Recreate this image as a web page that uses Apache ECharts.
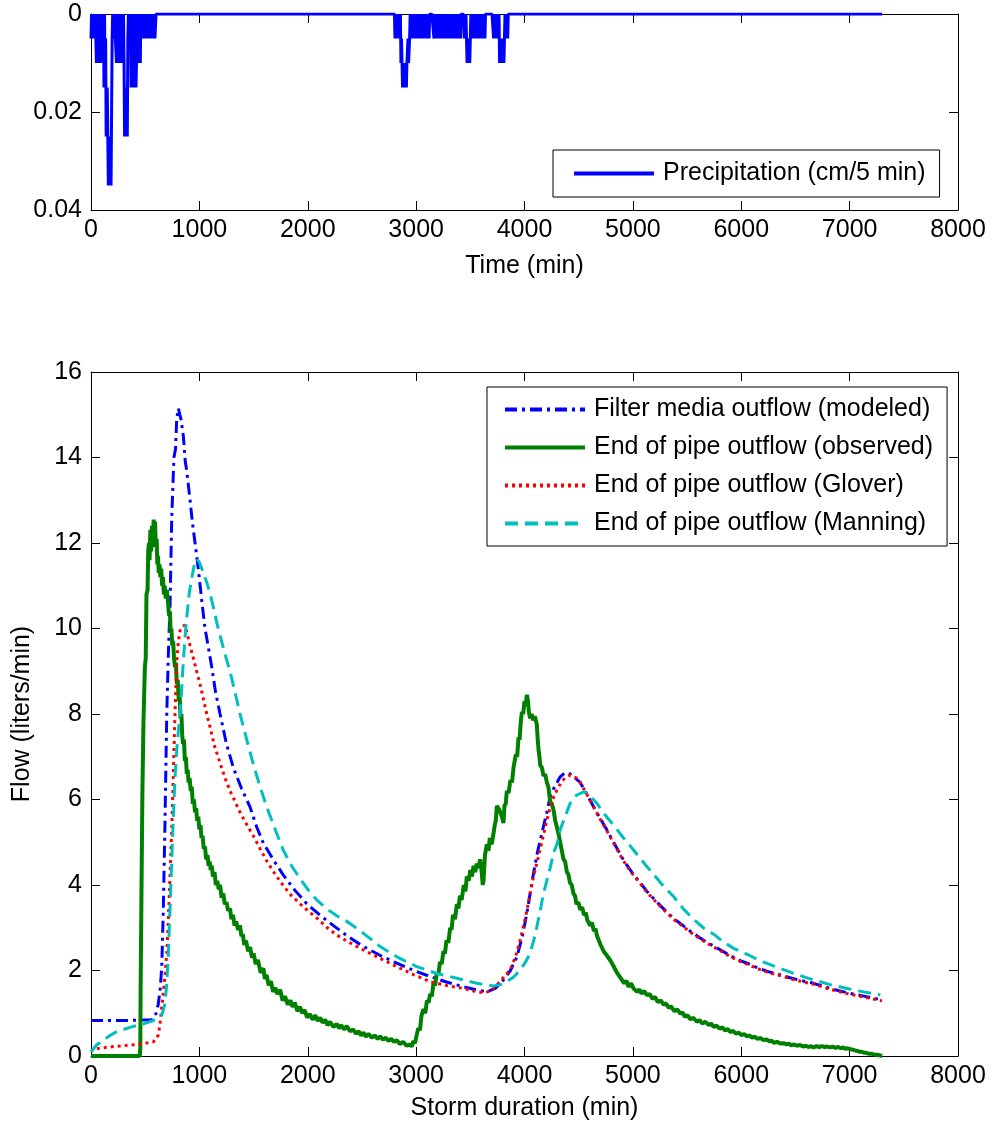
<!DOCTYPE html>
<html>
<head>
<meta charset="utf-8">
<script src="https://cdn.jsdelivr.net/npm/echarts@6/dist/echarts.min.js"></script>
<style>
html,body{margin:0;padding:0;background:#fff;}
#chart{width:995px;height:1130px;}
</style>
</head>
<body>
<div id="chart"></div>
<script>
// ---------- DATA ----------
const xTicks = [0, 1000, 2000, 3000, 4000, 5000, 6000, 7000, 8000];
const precipTicks = [0, 0.02, 0.04];
const flowTicks = [0, 2, 4, 6, 8, 10, 12, 14, 16];

// Precipitation (cm / 5 min), one reading every 5 minutes
const rain1Start = 0;
const rain1 = [
  0.005,0,0.005,0,0.005,0.005,0,0.005,0,0.005,
  0.01,0,0.01,0.005,0,0.01,0.005,0,0.01,0,
  0.005,0,0.005,0,
  0.015,0,0.015,0.005,
  0.025,0.02,0.015,0.025,
  0.035,0.03,0.025,0.035,0.03,0.035,0.02,
  0.005,0,0.005,0,0.005,0,0.005,
  0.005,0.01,0.005,0.005,0,0.01,0,0.01,
  0.01,0.005,0.01,0,0.01,0.005,0,0.01,
  0.025,0.02,0.025,0.02,0.015,0.025,
  0.005,0,0.005,0,0.005,0,
  0.015,0,0.015,0.005,0.015,0,0.01,0.015,0,0.015,
  0.01,0,0.01,0,0.01,0.005,0,0.01,0,
  0.005,0,0.005,0,0.005,0,0.005,0.005,0,0.005,0,0.005,0,0.005,0,0.005,0,0.005,0,0.005,0,0.005,0,0.005,0,0.005,0.005,0
];
const rain2Start = 2800;
const rain2 = [
  0,
  0.005,0,0.005,0,0.005,0,0.005,0.005,0,0.005,
  0,0.01,0.005,0.01,
  0.015,0.01,0.015,0.015,0.01,0.015,0.01,0.015,0.01,
  0.01,0.005,0.01,0.01,0.005,
  0,0.005,0,0.005,0,0.005,0.005,0,0.005,0,
  0.005,0,0.005,0,0.005,0,0.005,0.005,0,0.005,
  0,0.005,0,0.005,0,0.005,0,0.005,0,0.005,
  0,0.005,0,0.005,0,0.005,
  0,0,0,0,0,0,0,0,
  0.005,0,0.005,0,0.005,0,0.005,0.005,0,0.005,
  0,0.005,0,0.005,0,0.005,0,0.005,0,0.005,
  0,0.005,0.005,0,0.005,0,0.005,0,0.005,0,
  0.005,0,0.005,0,0.005,0,0.005,0.005,0,0.005,
  0,0.005,0,0.005,0,0.005,0,0.005,0,0.005,
  0,
  0,0,0,0,0,
  0.005,0,0.005,0,0.005,
  0.01,0.005,0.01,0.01,0.005,0.01,0.005,
  0,0.005,0,0.005,0,0.005,0,0.005,0.005,0,
  0.005,0,0.005,0,0.005,0,0.005,0,0.005,0,
  0.005,0,0.005,0,0.005,0,0.005,
  0,0,0,0,0,0,0,0,0,0,0,0,0,0,0,
  0.005,0,0.005,0,0.005,0,0.005,0.005,0,0.005,0,
  0.01,0.005,0.01,0.01,0.005,0.01,0.01,0.005,0.01,
  0.005,0,0.005,0,0.005,0,0.005,0
];
const rainTail = [[7300, 0]];

// Flow (liters/min) vs storm duration (min)
const filterModeled = [
  [0,0.83],[300,0.83],[560,0.85],[590,0.9],[620,1.2],[640,1.6],[653,2.1],[667,3.4],[683,5.5],[699,8.0],
  [715,9.5],[729,10.5],[745,12.6],[765,14.0],[780,14.2],[791,14.9],[806,15.15],[820,15.0],[830,14.9],[852,14.5],
  [870,13.9],[883,13.7],[914,13.0],[935,12.5],[960,12.0],[990,11.4],[1020,10.7],[1052,10.0],[1080,9.6],[1114,9.1],
  [1150,8.5],[1191,8.0],[1250,7.3],[1314,6.74],[1390,6.25],[1468,5.82],[1530,5.35],[1590,4.98],[1680,4.6],[1775,4.23],
  [1880,3.88],[1991,3.56],[2110,3.3],[2237,3.05],[2380,2.78],[2514,2.56],[2670,2.35],[2822,2.17],[2980,2.0],[3129,1.86],
  [3280,1.73],[3437,1.62],[3550,1.55],[3653,1.5],[3730,1.58],[3806,1.78],[3870,2.0],[3930,2.32],[3980,2.8],[4022,3.34],
  [4052,3.8],[4083,4.27],[4114,4.7],[4145,5.05],[4206,5.7],[4237,6.07],[4268,6.25],[4329,6.53],[4375,6.63],[4420,6.6],
  [4514,6.4],[4580,6.1],[4637,5.83],[4700,5.55],[4760,5.29],[4822,5.0],[4914,4.58],[4990,4.3],[5068,4.05],[5130,3.85],
  [5222,3.6],[5300,3.4],[5375,3.22],[5437,3.1],[5529,2.92],[5610,2.78],[5683,2.66],[5760,2.55],[5837,2.44],[5910,2.33],
  [5991,2.23],[6053,2.17],[6145,2.07],[6240,1.98],[6330,1.92],[6450,1.83],[6560,1.76],[6667,1.7],[6820,1.58],[6976,1.48],
  [7130,1.4],[7299,1.31]
];
const pipeObserved = [
  [0,0],[450,0],[455,0.2],[458,1.6],[462,1.6],[465,3.6],[470,3.6],[474,6.1],[480,6.1],[484,7.8],
  [492,7.8],[497,9.1],[505,9.3],[512,10.8],[522,10.9],[528,11.8],[535,12.0],[540,11.6],[548,12.3],[555,11.8],
  [562,12.4],[570,11.9],[578,12.55],[585,12.2],[591,12.5],[598,11.9],[606,12.1],[612,11.5],[618,11.7],[625,11.3],
  [632,11.5],[640,11.2],[648,11.4],[656,11.0],[664,11.2],[672,10.8],[680,11.0],[690,10.7],[700,10.9],[711,10.6],
  [720,10.3],[728,10.4],[735,9.9],[742,10.0],[750,9.6],[758,9.7],[766,9.3],[775,9.1],[783,9.2],[792,8.7],
  [800,8.8],[810,8.3],[818,8.4],[826,7.9],[834,8.0],[842,7.5],[850,7.3],[858,7.4],[866,6.9],[875,7.0],
  [884,6.6],[892,6.7],[900,6.4],[910,6.5],[920,6.2],[929,6.3],[940,5.9],[950,6.0],[960,5.7],[970,5.8],
  [980,5.5],[990,5.6],[1000,5.3],[1010,5.4],[1020,5.1],[1030,5.15],[1040,4.85],[1052,4.9],[1062,4.6],[1075,4.7],
  [1085,4.45],[1095,4.55],[1105,4.35],[1114,4.45],[1125,4.2],[1140,4.3],[1152,4.0],[1165,4.1],[1178,3.9],[1191,4.0],
  [1205,3.7],[1220,3.8],[1235,3.55],[1250,3.6],[1265,3.4],[1283,3.45],[1296,3.2],[1310,3.3],[1325,3.05],[1340,3.15],
  [1357,2.95],[1375,3.05],[1388,2.8],[1400,2.85],[1415,2.6],[1430,2.7],[1450,2.45],[1468,2.55],[1485,2.3],[1500,2.4],
  [1520,2.15],[1540,2.25],[1565,1.95],[1590,2.05],[1605,1.8],[1620,1.9],[1640,1.65],[1660,1.75],[1680,1.5],[1700,1.6],
  [1720,1.45],[1745,1.55],[1768,1.3],[1790,1.4],[1815,1.2],[1840,1.3],[1860,1.15],[1880,1.25],[1905,1.05],[1929,1.15],
  [1950,1.0],[1970,1.08],[1995,0.9],[2020,0.98],[2045,0.85],[2070,0.95],[2092,0.82],[2114,0.9],[2137,0.78],[2160,0.85],
  [2183,0.72],[2206,0.8],[2237,0.68],[2268,0.75],[2290,0.65],[2310,0.72],[2335,0.62],[2360,0.7],[2390,0.58],[2420,0.62],
  [2445,0.52],[2470,0.58],[2492,0.48],[2514,0.55],[2537,0.45],[2560,0.52],[2590,0.43],[2620,0.48],[2645,0.4],[2668,0.46],
  [2695,0.38],[2720,0.43],[2745,0.35],[2770,0.4],[2796,0.33],[2822,0.37],[2850,0.28],[2880,0.33],[2912,0.24],[2945,0.27],
  [2960,0.22],[2975,0.35],[2990,0.3],[3006,0.5],[3020,0.65],[3035,0.6],[3050,0.95],[3068,1.1],[3084,1.0],[3100,1.3],
  [3115,1.25],[3129,1.45],[3145,1.4],[3160,1.7],[3175,1.65],[3191,1.95],[3205,1.9],[3220,2.2],[3236,2.15],[3252,2.45],
  [3266,2.4],[3280,2.7],[3297,2.65],[3314,3.0],[3327,2.95],[3340,3.3],[3358,3.2],[3376,3.55],[3390,3.45],[3405,3.75],
  [3420,3.65],[3440,4.0],[3455,3.85],[3468,4.2],[3485,4.1],[3500,4.35],[3515,4.2],[3530,4.45],[3545,4.3],[3560,4.5],
  [3575,4.4],[3590,4.6],[3605,4.3],[3615,4.0],[3622,4.1],[3635,4.7],[3653,4.95],[3668,4.8],[3680,5.1],[3697,4.95],
  [3714,5.2],[3725,5.4],[3735,5.5],[3745,5.85],[3758,5.8],[3770,5.75],[3790,5.6],[3806,5.45],[3815,5.85],[3827,5.9],
  [3837,6.2],[3853,6.15],[3870,6.45],[3885,6.4],[3899,6.75],[3910,6.75],[3920,7.05],[3932,7.0],[3945,7.45],[3955,7.4],
  [3965,7.8],[3976,8.05],[3988,8.0],[4000,8.3],[4012,8.2],[4022,8.45],[4032,8.3],[4040,8.05],[4052,7.9],[4066,8.0],
  [4080,7.85],[4095,7.95],[4114,7.75],[4122,7.4],[4130,7.15],[4138,7.0],[4145,6.8],[4160,6.75],[4175,6.55],[4190,6.6],
  [4206,6.4],[4220,6.3],[4237,5.95],[4252,5.9],[4268,5.75],[4284,5.5],[4299,5.35],[4314,5.2],[4329,5.0],[4345,4.8],
  [4360,4.6],[4375,4.55],[4391,4.3],[4405,4.25],[4420,4.05],[4436,4.0],[4452,3.8],[4466,3.75],[4480,3.55],[4497,3.6],
  [4514,3.42],[4532,3.48],[4550,3.3],[4565,3.35],[4580,3.18],[4593,3.22],[4606,3.05],[4623,3.12],[4640,2.92],[4655,2.98],
  [4668,2.82],[4684,2.8],[4699,2.62],[4715,2.6],[4730,2.45],[4745,2.48],[4760,2.35],[4775,2.38],[4791,2.24],[4806,2.26],
  [4822,2.1],[4836,2.12],[4850,1.96],[4866,2.0],[4883,1.84],[4900,1.86],[4920,1.7],[4940,1.76],[4960,1.62],[4983,1.7],
  [5006,1.58],[5023,1.62],[5040,1.5],[5060,1.56],[5080,1.46],[5105,1.52],[5130,1.42],[5155,1.45],[5180,1.34],[5205,1.38],
  [5230,1.26],[5257,1.3],[5283,1.2],[5307,1.23],[5330,1.13],[5355,1.16],[5380,1.05],[5410,1.09],[5437,0.99],[5458,1.02],
  [5480,0.92],[5505,0.95],[5530,0.86],[5560,0.89],[5591,0.8],[5615,0.84],[5640,0.76],[5670,0.8],[5700,0.72],[5722,0.76],
  [5745,0.68],[5772,0.71],[5800,0.64],[5825,0.67],[5850,0.6],[5875,0.63],[5899,0.56],[5925,0.59],[5950,0.52],[5975,0.55],
  [6000,0.49],[6027,0.51],[6053,0.46],[6077,0.48],[6100,0.43],[6125,0.45],[6150,0.4],[6178,0.42],[6206,0.37],[6233,0.39],
  [6260,0.34],[6280,0.36],[6300,0.31],[6330,0.33],[6360,0.29],[6390,0.3],[6420,0.27],[6440,0.29],[6460,0.25],[6487,0.27],
  [6514,0.24],[6542,0.26],[6570,0.22],[6595,0.24],[6620,0.21],[6645,0.23],[6667,0.2],[6693,0.23],[6720,0.21],[6745,0.23],
  [6770,0.21],[6795,0.22],[6821,0.2],[6845,0.22],[6870,0.19],[6895,0.21],[6920,0.18],[6940,0.2],[6960,0.17],[6983,0.18],
  [7006,0.16],[7028,0.15],[7050,0.13],[7070,0.12],[7090,0.1],[7110,0.1],[7129,0.08],[7155,0.07],[7180,0.05],[7205,0.05],
  [7230,0.03],[7257,0.03],[7283,0.01],[7300,0.0]
];
const pipeGlover = [
  [0,0.1],[21,0.16],[100,0.19],[206,0.22],[300,0.24],[422,0.27],[500,0.3],[575,0.33],[600,0.4],[621,0.49],
  [637,0.76],[653,1.15],[668,1.5],[683,1.9],[699,2.4],[714,3.2],[729,4.2],[745,5.3],[760,6.6],[775,8.0],
  [791,9.2],[806,9.7],[822,9.95],[845,10.05],[868,10.08],[890,9.85],[914,9.6],[945,9.3],[975,9.0],[1006,8.7],
  [1037,8.35],[1068,8.0],[1098,7.7],[1140,7.25],[1191,6.85],[1237,6.5],[1283,6.2],[1330,5.95],[1375,5.7],[1440,5.4],
  [1498,5.15],[1560,4.85],[1622,4.56],[1700,4.25],[1775,3.98],[1850,3.75],[1929,3.56],[2000,3.4],[2083,3.23],[2180,3.0],
  [2268,2.83],[2380,2.66],[2514,2.48],[2670,2.28],[2822,2.09],[2980,1.9],[3129,1.74],[3280,1.65],[3437,1.58],[3530,1.52],
  [3622,1.48],[3690,1.52],[3745,1.66],[3810,1.85],[3868,2.01],[3920,2.35],[3960,2.71],[4010,3.25],[4052,3.8],[4083,4.2],
  [4114,4.51],[4160,5.0],[4206,5.52],[4250,5.95],[4299,6.22],[4350,6.45],[4421,6.57],[4480,6.5],[4514,6.4],[4580,6.1],
  [4637,5.83],[4700,5.53],[4760,5.27],[4822,4.98],[4914,4.56],[4990,4.28],[5068,4.03],[5130,3.83],[5222,3.58],[5300,3.38],
  [5375,3.2],[5437,3.08],[5529,2.9],[5610,2.76],[5683,2.64],[5760,2.53],[5837,2.42],[5910,2.31],[5991,2.21],[6053,2.15],
  [6145,2.05],[6240,1.96],[6330,1.9],[6450,1.81],[6560,1.74],[6667,1.68],[6820,1.56],[6976,1.46],[7130,1.38],[7299,1.29]
];
const pipeManning = [
  [0,0.1],[6,0.14],[50,0.25],[114,0.37],[175,0.48],[237,0.57],[300,0.62],[360,0.67],[420,0.71],[483,0.75],
  [540,0.8],[575,0.83],[620,0.9],[653,0.96],[670,1.1],[683,1.23],[699,1.7],[714,2.4],[730,3.5],[745,4.6],
  [760,5.6],[775,6.5],[791,7.16],[806,7.6],[822,8.0],[837,8.6],[852,9.24],[868,9.8],[883,10.25],[905,10.8],
  [929,11.17],[950,11.45],[975,11.63],[1000,11.55],[1030,11.35],[1068,11.08],[1100,10.8],[1129,10.5],[1160,10.15],[1191,9.83],
  [1237,9.4],[1283,8.99],[1330,8.5],[1375,8.0],[1437,7.4],[1498,6.82],[1560,6.3],[1622,5.82],[1700,5.3],[1775,4.81],
  [1850,4.45],[1929,4.15],[2006,3.88],[2083,3.65],[2170,3.45],[2268,3.28],[2360,3.15],[2514,2.87],[2668,2.56],[2822,2.32],
  [3006,2.09],[3191,1.93],[3376,1.82],[3560,1.7],[3714,1.64],[3780,1.67],[3837,1.74],[3900,1.85],[3960,2.01],[4010,2.2],
  [4052,2.4],[4090,2.75],[4114,3.02],[4145,3.4],[4175,3.8],[4206,4.1],[4237,4.4],[4268,4.75],[4299,4.95],[4329,5.29],
  [4375,5.6],[4421,5.91],[4480,6.1],[4545,6.18],[4600,6.1],[4668,5.91],[4740,5.65],[4822,5.4],[4914,5.1],[5006,4.82],
  [5100,4.52],[5191,4.25],[5280,3.98],[5375,3.73],[5470,3.43],[5560,3.2],[5650,3.0],[5745,2.85],[5840,2.66],[5929,2.52],
  [6053,2.38],[6200,2.2],[6360,2.05],[6520,1.9],[6667,1.78],[6820,1.67],[6976,1.58],[7130,1.5],[7283,1.43]
];

// ---------- BUILD ----------
const precipData = [];
rain1.forEach((v, i) => precipData.push([rain1Start + 5 * i, v]));
rain2.forEach((v, i) => precipData.push([rain2Start + 5 * i, v]));
rainTail.forEach(p => precipData.push(p));

const FONT = "'Liberation Sans', Arial, sans-serif";
const FS = 25;
const plain = v => String(v);

function xAxisCfg(grid, pos, showLabel, name, nameGap) {
  return {
    type: 'value', gridIndex: grid, position: pos,
    min: xTicks[0], max: xTicks[xTicks.length - 1], interval: xTicks[1] - xTicks[0],
    name: name || '', nameLocation: 'middle', nameGap: nameGap || 0,
    nameTextStyle: { fontSize: FS, color: '#000', fontFamily: FONT },
    axisLine: { show: true, onZero: false, lineStyle: { color: '#000', width: 1 } },
    axisTick: { show: true, inside: true, length: 9, lineStyle: { color: '#000' } },
    axisLabel: { show: showLabel, fontSize: FS, color: '#000', fontFamily: FONT, margin: 8, formatter: plain },
    splitLine: { show: false }
  };
}
function yAxisCfg(grid, pos, ticks, showLabel, inverse, name, nameGap) {
  return {
    type: 'value', gridIndex: grid, position: pos, inverse: !!inverse,
    min: ticks[0], max: ticks[ticks.length - 1], interval: ticks[1] - ticks[0],
    name: name || '', nameLocation: 'middle', nameGap: nameGap || 0, nameRotate: 90,
    nameTextStyle: { fontSize: FS, color: '#000', fontFamily: FONT },
    axisLine: { show: true, onZero: false, lineStyle: { color: '#000', width: 1 } },
    axisTick: { show: true, inside: true, length: 9, lineStyle: { color: '#000' } },
    axisLabel: { show: showLabel, fontSize: FS, color: '#000', fontFamily: FONT, margin: 9, formatter: plain },
    splitLine: { show: false }
  };
}

const legendBase = {
  orient: 'vertical',
  itemWidth: 80, itemHeight: 14, itemGap: 13,
  borderColor: '#000', borderWidth: 1, backgroundColor: '#fff',
  selectedMode: false,
  itemStyle: { opacity: 0 },
  lineStyle: { width: 4 },
  textStyle: { fontSize: FS, color: '#000', fontFamily: FONT, padding: [0, 0, 0, 4] }
};

const chart = echarts.init(document.getElementById('chart'), null, { renderer: 'canvas' });
chart.setOption({
  animation: false,
  backgroundColor: '#fff',
  textStyle: { fontFamily: FONT },
  grid: [
    { left: 91, top: 14, width: 867, height: 196 },
    { left: 91, top: 372, width: 867, height: 684 }
  ],
  xAxis: [
    xAxisCfg(0, 'bottom', true, 'Time (min)', 44),
    xAxisCfg(0, 'top', false),
    xAxisCfg(1, 'bottom', true, 'Storm duration (min)', 40),
    xAxisCfg(1, 'top', false)
  ],
  yAxis: [
    yAxisCfg(0, 'left', precipTicks, true, true),
    yAxisCfg(0, 'right', precipTicks, false, true),
    yAxisCfg(1, 'left', flowTicks, true, false, 'Flow (liters/min)', 56),
    yAxisCfg(1, 'right', flowTicks, false, false)
  ],
  legend: [
    Object.assign({}, legendBase, {
      data: ['Precipitation (cm/5 min)'],
      left: 553, top: 150,
      padding: [11, 14, 11, 19]
    }),
    Object.assign({}, legendBase, {
      data: ['Filter media outflow (modeled)', 'End of pipe outflow (observed)', 'End of pipe outflow (Glover)', 'End of pipe outflow (Manning)'],
      left: 487, top: 387,
      padding: [10, 14, 10, 16]
    })
  ],
  series: [
    {
      name: 'Precipitation (cm/5 min)', type: 'line', xAxisIndex: 0, yAxisIndex: 0,
      data: precipData, symbol: 'none', showSymbol: false, sampling: null,
      lineStyle: { color: '#0000ff', width: 3 }, itemStyle: { color: '#0000ff' }
    },
    {
      name: 'Filter media outflow (modeled)', type: 'line', xAxisIndex: 2, yAxisIndex: 2,
      data: filterModeled, symbol: 'none', showSymbol: false,
      lineStyle: { color: '#0000ff', width: 3, type: [12, 5, 3, 5] }, itemStyle: { color: '#0000ff' }
    },
    {
      name: 'End of pipe outflow (observed)', type: 'line', xAxisIndex: 2, yAxisIndex: 2,
      data: pipeObserved, symbol: 'none', showSymbol: false,
      lineStyle: { color: '#008000', width: 4 }, itemStyle: { color: '#008000' }
    },
    {
      name: 'End of pipe outflow (Glover)', type: 'line', xAxisIndex: 2, yAxisIndex: 2,
      data: pipeGlover, symbol: 'none', showSymbol: false,
      lineStyle: { color: '#ff0000', width: 3, type: [3, 4] }, itemStyle: { color: '#ff0000' }
    },
    {
      name: 'End of pipe outflow (Manning)', type: 'line', xAxisIndex: 2, yAxisIndex: 2,
      data: pipeManning, symbol: 'none', showSymbol: false,
      lineStyle: { color: '#00bfbf', width: 3, type: [13, 7] }, itemStyle: { color: '#00bfbf' }
    }
  ]
});
</script>
</body>
</html>
